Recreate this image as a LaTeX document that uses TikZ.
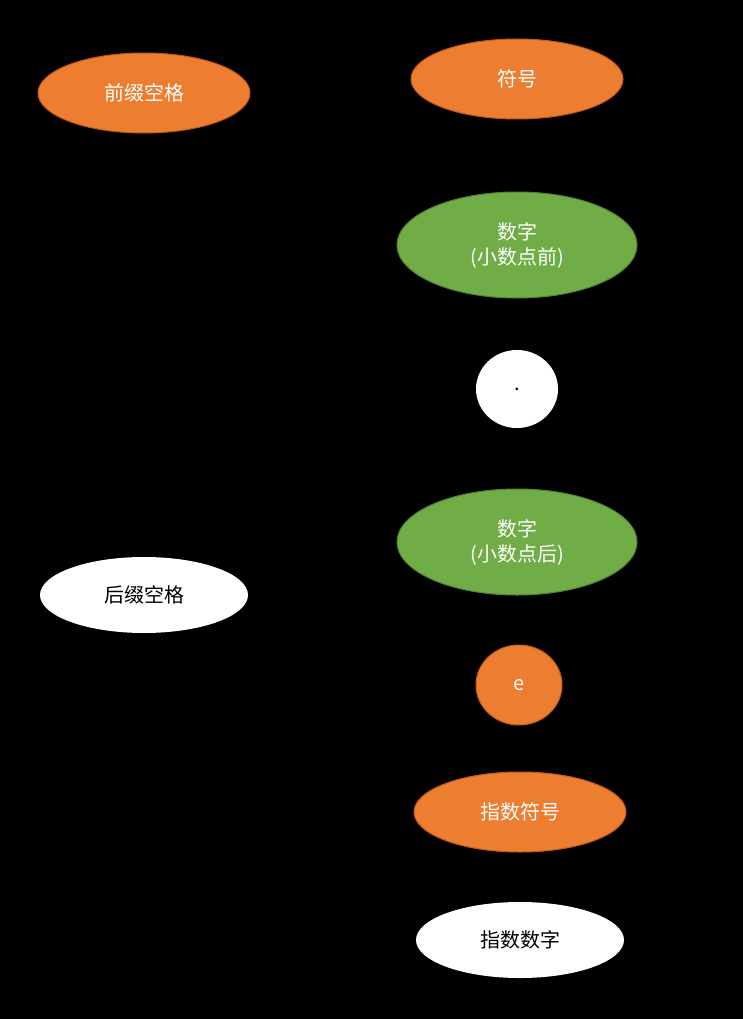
\documentclass[tikz,border=0pt]{standalone}
\usepackage{fontspec}
\setmainfont{Noto Sans CJK SC}
\usetikzlibrary{shapes.geometric}
\definecolor{org}{HTML}{ED7D31}
\definecolor{orgd}{HTML}{C55A11}
\definecolor{grn}{HTML}{70AD47}
\definecolor{grnd}{HTML}{548235}
\tikzset{
 st/.style={ellipse, inner sep=0pt, font=\fontsize{20}{25}\selectfont, align=center},
 og/.style={st, fill=org, draw=orgd, line width=1pt, text=white},
 gn/.style={st, fill=grn, draw=grnd, line width=1pt, text=white},
 wt/.style={st, fill=white, text=black},
}
\begin{document}
\begin{tikzpicture}[x=1pt,y=-1pt]
\fill[black] (0,0) rectangle (743,1019);
\useasboundingbox (0,0) rectangle (743,1019);
\node[og, minimum width=212pt, minimum height=80pt] (pre) at (144,93) {前缀空格};
\node[og, minimum width=212pt, minimum height=80pt] (sign) at (517,79) {符号};
\node[gn, minimum width=240pt, minimum height=106pt] (d1) at (517,245) {数字\\(小数点前)};
\node[wt, minimum width=82pt, minimum height=78pt] (dot) at (517,389) {.};
\node[gn, minimum width=240pt, minimum height=106pt] (d2) at (517,542) {数字\\(小数点后)};
\node[wt, minimum width=208pt, minimum height=76pt] (suf) at (144,595) {后缀空格};
\node[og, minimum width=86pt, minimum height=80pt] (e) at (519,685) {e};
\node[og, minimum width=212pt, minimum height=80pt] (es) at (520,812) {指数符号};
\node[wt, minimum width=208pt, minimum height=76pt] (ed) at (520,940) {指数数字};
\end{tikzpicture}
\end{document}
